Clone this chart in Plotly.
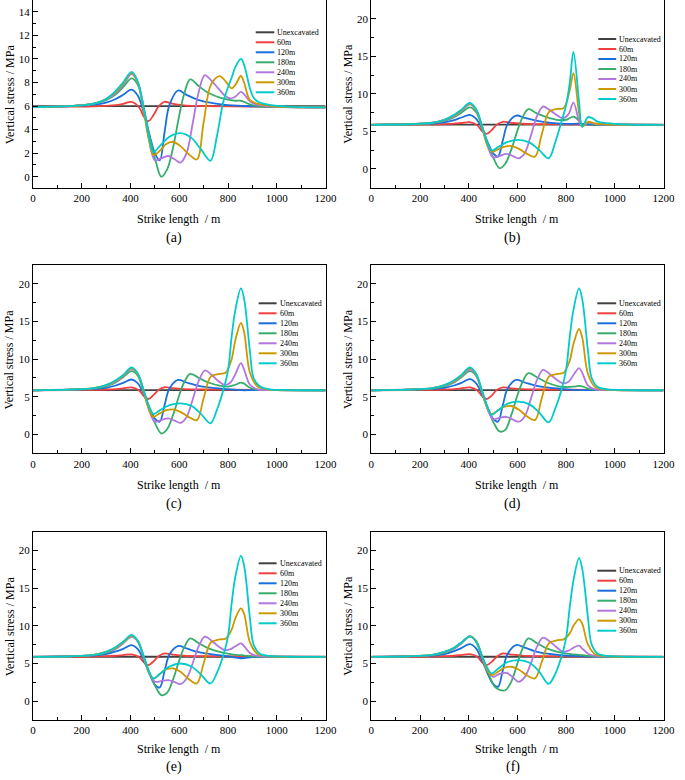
import plotly.graph_objects as go

# -------------------------
# Data
# -------------------------
SERIES = ["Unexcavated", "60m", "120m", "180m", "240m", "300m", "360m"]
COLORS = ["#404040", "#F14040", "#1A6FDF", "#37AD6B", "#B177DE", "#CC9900", "#00CBCC"]
PANELS = ["(a)", "(b)", "(c)", "(d)", "(e)", "(f)"]

X_UNEX = [0, 1200]
X_60 = [0, 150, 250, 300, 340, 370, 405, 435, 455, 474, 495, 515, 540, 570, 620, 700, 900, 1050, 1200]
X_120 = [0, 150, 250, 300, 340, 370, 405, 430, 455, 480, 500, 520, 540, 560, 595, 630, 680, 750, 800, 853, 900, 1000, 1200]
X_180 = [0, 150, 250, 300, 340, 370, 405, 430, 455, 480, 505, 527, 550, 575, 600, 620, 645, 680, 720, 770, 800, 830, 853, 866, 890, 920, 1000, 1200]
X_240 = [0, 150, 250, 300, 340, 370, 405, 430, 455, 478, 500, 525, 555, 580, 605, 630, 655, 680, 705, 730, 760, 786, 810, 830, 853, 866, 890, 920, 1000, 1200]
X_300 = [0, 150, 250, 300, 340, 370, 405, 430, 455, 475, 494, 520, 545, 574, 605, 640, 672, 700, 730, 765, 790, 815, 830, 853, 866, 890, 920, 960, 1000, 1200]
X_360 = [0, 150, 250, 300, 340, 370, 405, 430, 455, 475, 494, 520, 560, 605, 650, 690, 728, 755, 780, 800, 815, 830, 853, 866, 890, 905, 930, 970, 1050, 1200]

# (a)
A_UNEX = [6.0, 6.0]
A_60 = [5.92, 5.95, 5.98, 6.02, 6.08, 6.18, 6.35, 5.9, 5.1, 4.72, 5.25, 5.95, 6.36, 6.2, 6.05, 6.0, 5.96, 5.92, 5.88]
A_120 = [5.92, 6.0, 6.12, 6.3, 6.6, 6.95, 7.4, 6.9, 5.4, 3.4, 2.0, 1.4, 3.8, 6.1, 7.32, 6.95, 6.5, 6.2, 6.08, 6.02, 5.98, 5.93, 5.88]
A_180 = [5.92, 6.0, 6.2, 6.5, 7.0, 7.6, 8.34, 7.8, 5.8, 3.3, 1.2, 0.0, 0.6, 2.5, 5.2, 7.0, 8.26, 7.7, 7.1, 6.7, 6.55, 6.45, 6.45, 6.35, 6.15, 6.0, 5.93, 5.88]
A_240 = [5.92, 6.0, 6.2, 6.55, 7.1, 7.8, 8.71, 8.0, 5.7, 3.0, 1.4, 1.55, 1.76, 1.5, 1.2, 2.0, 4.5, 7.2, 8.63, 8.2, 7.5, 6.9, 6.65, 6.8, 7.2, 7.0, 6.4, 6.1, 5.93, 5.88]
A_300 = [5.92, 6.0, 6.2, 6.6, 7.2, 7.9, 8.82, 8.0, 5.5, 3.2, 1.85, 2.2, 2.75, 2.97, 2.6, 1.9, 1.47, 4.6, 7.8, 8.54, 8.1, 7.5, 7.8, 8.55, 8.0, 6.5, 6.2, 6.05, 5.95, 5.88]
A_360 = [5.92, 6.0, 6.2, 6.6, 7.3, 8.0, 8.9, 8.1, 5.8, 3.5, 2.1, 2.6, 3.4, 3.7, 3.3, 2.3, 1.36, 3.5, 6.3, 7.6, 8.4, 9.3, 10.0, 9.5, 7.5, 6.7, 6.3, 6.1, 5.95, 5.88]

# (b)
B_UNEX = [5.9, 5.9]
B_60 = [5.87, 5.9, 5.93, 5.97, 6.03, 6.12, 6.22, 5.8, 5.05, 4.66, 5.2, 5.9, 6.28, 6.15, 6.02, 5.97, 5.93, 5.9, 5.87]
B_120 = [5.87, 5.95, 6.05, 6.2, 6.5, 6.85, 7.2, 6.7, 5.3, 3.4, 2.1, 1.65, 3.8, 6.0, 7.1, 6.8, 6.4, 6.1, 6.0, 6.02, 5.92, 5.9, 5.87]
B_180 = [5.87, 5.95, 6.1, 6.4, 6.9, 7.5, 8.2, 7.6, 5.6, 3.2, 1.2, 0.1, 0.7, 2.6, 5.1, 6.8, 7.95, 7.4, 6.9, 6.5, 6.55, 6.97, 6.4, 5.8, 6.1, 5.95, 5.9, 5.87]
B_240 = [5.87, 5.95, 6.15, 6.5, 7.0, 7.7, 8.6, 7.9, 5.6, 3.0, 1.55, 1.7, 2.0, 1.75, 1.42, 2.1, 4.4, 7.0, 8.31, 7.9, 7.2, 6.75, 7.3, 8.84, 6.4, 5.65, 6.2, 6.0, 5.9, 5.87]
B_300 = [5.87, 5.95, 6.15, 6.55, 7.1, 7.8, 8.7, 7.9, 5.5, 3.3, 2.3, 2.6, 2.95, 3.07, 2.7, 2.0, 1.64, 4.6, 7.6, 8.0, 8.1, 10.5, 12.75, 7.5, 5.64, 6.3, 6.05, 5.95, 5.9, 5.87]
B_360 = [5.87, 5.95, 6.15, 6.55, 7.2, 7.9, 8.8, 8.0, 5.7, 3.6, 2.44, 2.9, 3.6, 3.86, 3.5, 2.5, 1.42, 3.5, 6.2, 8.5, 11.5, 15.6, 9.0, 5.64, 6.9, 6.8, 6.3, 6.1, 5.9, 5.87]

# (c)
C_UNEX = [5.9, 5.9]
C_60 = [5.87, 5.9, 5.93, 5.97, 6.03, 6.13, 6.25, 5.85, 5.1, 4.71, 5.25, 5.9, 6.27, 6.15, 6.02, 5.97, 5.93, 5.9, 5.87]
C_120 = [5.87, 5.95, 6.05, 6.2, 6.5, 6.85, 7.3, 6.8, 5.3, 3.4, 2.1, 1.7, 3.9, 6.1, 7.24, 6.9, 6.45, 6.15, 6.0, 5.88, 5.88, 5.88, 5.87]
C_180 = [5.87, 5.95, 6.1, 6.4, 6.9, 7.6, 8.4, 7.8, 5.7, 3.2, 1.2, 0.13, 0.7, 2.6, 5.2, 6.9, 8.04, 7.5, 6.9, 6.45, 6.35, 6.6, 6.89, 6.75, 6.2, 5.95, 5.9, 5.87]
C_240 = [5.87, 5.95, 6.15, 6.5, 7.0, 7.7, 8.7, 8.0, 5.7, 3.1, 1.7, 1.9, 2.13, 1.85, 1.55, 2.3, 4.6, 7.1, 8.49, 8.0, 7.1, 6.58, 6.9, 8.0, 9.47, 8.6, 6.6, 6.0, 5.9, 5.87]
C_300 = [5.87, 5.95, 6.15, 6.55, 7.1, 7.8, 8.8, 8.0, 5.5, 3.4, 2.35, 2.8, 3.2, 3.33, 3.0, 2.3, 1.91, 4.8, 7.7, 8.04, 8.2, 10.0, 12.5, 14.8, 13.6, 8.2, 6.4, 6.0, 5.9, 5.87]
C_360 = [5.87, 5.95, 6.15, 6.55, 7.2, 7.9, 8.9, 8.1, 5.8, 3.8, 2.71, 3.2, 3.9, 4.13, 3.8, 2.7, 1.47, 3.3, 5.8, 8.5, 13.0, 16.5, 19.4, 18.0, 11.0, 7.5, 6.4, 6.0, 5.9, 5.87]

# (d)
D_UNEX = [5.9, 5.9]
D_60 = [5.87, 5.9, 5.93, 5.97, 6.03, 6.13, 6.25, 5.85, 5.1, 4.7, 5.2, 5.9, 6.25, 6.15, 6.02, 5.97, 5.93, 5.9, 5.87]
D_120 = [5.87, 5.95, 6.05, 6.2, 6.5, 6.85, 7.35, 6.8, 5.3, 3.4, 2.1, 1.7, 3.9, 6.1, 7.24, 6.9, 6.45, 6.15, 6.0, 5.9, 5.88, 5.88, 5.87]
D_180 = [5.87, 5.95, 6.1, 6.4, 6.9, 7.6, 8.4, 7.8, 5.7, 3.3, 1.4, 0.4, 0.6, 2.6, 5.2, 6.9, 8.13, 7.6, 6.9, 6.4, 6.3, 6.35, 6.45, 6.4, 6.1, 5.95, 5.9, 5.87]
D_240 = [5.87, 5.95, 6.15, 6.5, 7.0, 7.7, 8.6, 7.9, 5.7, 3.3, 2.04, 2.2, 2.35, 2.0, 1.7, 2.4, 4.7, 7.2, 8.58, 8.1, 7.3, 6.8, 7.0, 7.9, 8.8, 8.2, 6.5, 6.0, 5.9, 5.87]
D_300 = [5.87, 5.95, 6.15, 6.55, 7.1, 7.8, 8.8, 8.0, 5.6, 3.6, 2.7, 3.2, 3.65, 3.78, 3.3, 2.4, 1.91, 4.8, 7.7, 8.04, 8.2, 9.8, 12.0, 14.0, 12.9, 8.0, 6.3, 6.0, 5.9, 5.87]
D_360 = [5.87, 5.95, 6.15, 6.55, 7.2, 7.9, 8.9, 8.1, 5.8, 3.8, 2.6, 3.2, 4.1, 4.36, 4.0, 2.9, 1.6, 3.4, 5.8, 8.6, 13.0, 16.5, 19.4, 18.0, 11.0, 7.5, 6.3, 6.0, 5.9, 5.87]

# (e)
E_UNEX = [5.9, 5.9]
E_60 = [5.87, 5.9, 5.93, 5.97, 6.03, 6.12, 6.21, 5.85, 5.15, 4.79, 5.3, 5.95, 6.34, 6.2, 6.03, 5.97, 5.93, 5.9, 5.87]
E_120 = [5.87, 5.95, 6.05, 6.25, 6.6, 6.95, 7.45, 6.9, 5.4, 3.5, 2.2, 1.8, 4.0, 6.2, 7.32, 7.0, 6.5, 6.15, 5.95, 5.7, 5.85, 5.88, 5.87]
E_180 = [5.87, 5.95, 6.1, 6.4, 6.95, 7.7, 8.56, 8.0, 5.9, 3.6, 1.8, 0.8, 1.1, 2.9, 5.4, 7.1, 8.34, 7.7, 7.0, 6.5, 6.3, 6.15, 6.1, 6.05, 5.95, 5.9, 5.88, 5.87]
E_240 = [5.87, 5.95, 6.15, 6.5, 7.0, 7.7, 8.6, 7.9, 5.8, 3.6, 2.6, 2.65, 2.8, 2.55, 2.26, 3.0, 5.0, 7.3, 8.56, 8.1, 7.3, 6.79, 6.9, 7.3, 7.67, 7.3, 6.4, 6.0, 5.9, 5.87]
E_300 = [5.87, 5.95, 6.15, 6.55, 7.1, 7.8, 8.7, 8.0, 5.7, 3.9, 3.02, 3.6, 4.2, 4.35, 3.9, 2.9, 2.35, 5.0, 7.8, 8.2, 8.3, 9.5, 11.0, 12.33, 11.6, 7.8, 6.3, 6.0, 5.9, 5.87]
E_360 = [5.87, 5.95, 6.15, 6.55, 7.2, 7.9, 8.8, 8.0, 5.9, 4.0, 3.0, 3.6, 4.6, 5.0, 4.6, 3.5, 2.35, 3.8, 6.0, 8.6, 13.0, 16.5, 19.3, 18.0, 11.0, 7.5, 6.3, 6.0, 5.9, 5.87]

# (f)
F_UNEX = [5.9, 5.9]
F_60 = [5.87, 5.9, 5.93, 5.97, 6.03, 6.14, 6.25, 5.9, 5.15, 4.79, 5.25, 5.9, 6.34, 6.22, 6.04, 5.97, 5.93, 5.9, 5.87]
F_120 = [5.87, 5.95, 6.05, 6.25, 6.65, 7.05, 7.58, 7.0, 5.4, 3.5, 2.3, 1.9, 4.1, 6.3, 7.45, 7.1, 6.55, 6.2, 6.05, 6.0, 5.92, 5.88, 5.87]
F_180 = [5.87, 5.95, 6.1, 6.4, 6.95, 7.7, 8.6, 8.0, 6.0, 3.8, 2.0, 1.5, 1.45, 2.6, 5.0, 6.9, 8.34, 7.7, 7.0, 6.5, 6.3, 6.2, 6.15, 6.1, 6.0, 5.92, 5.88, 5.87]
F_240 = [5.87, 5.95, 6.15, 6.5, 7.0, 7.7, 8.6, 7.9, 5.9, 4.0, 3.24, 3.6, 3.75, 3.2, 2.57, 3.2, 5.0, 7.2, 8.43, 8.0, 7.2, 6.56, 6.7, 7.1, 7.36, 7.0, 6.3, 6.0, 5.9, 5.87]
F_300 = [5.87, 5.95, 6.15, 6.55, 7.1, 7.8, 8.6, 8.0, 5.8, 4.2, 3.46, 3.9, 4.4, 4.57, 4.2, 3.4, 3.02, 5.2, 7.7, 8.1, 8.2, 9.0, 10.0, 10.87, 10.3, 7.5, 6.2, 6.0, 5.9, 5.87]
F_360 = [5.87, 5.95, 6.15, 6.55, 7.1, 7.8, 8.6, 7.9, 6.0, 4.5, 3.68, 4.3, 5.2, 5.46, 5.1, 3.9, 2.3, 3.6, 5.8, 8.4, 12.5, 16.0, 19.0, 17.6, 11.0, 7.5, 6.3, 6.0, 5.9, 5.87]

X_TICKS = [0, 200, 400, 600, 800, 1000, 1200]

# -------------------------
# Layout helpers
# -------------------------
W, H = 685, 780
FONT = "Liberation Serif"

xs = [X_UNEX, X_60, X_120, X_180, X_240, X_300, X_360]
panel_data = [
    [A_UNEX, A_60, A_120, A_180, A_240, A_300, A_360],
    [B_UNEX, B_60, B_120, B_180, B_240, B_300, B_360],
    [C_UNEX, C_60, C_120, C_180, C_240, C_300, C_360],
    [D_UNEX, D_60, D_120, D_180, D_240, D_300, D_360],
    [E_UNEX, E_60, E_120, E_180, E_240, E_300, E_360],
    [F_UNEX, F_60, F_120, F_180, F_240, F_300, F_360],
]


def px(x):
    return x / W


def py(y):
    return 1 - y / H


col_dom = [[px(30.5), px(329.3)], [px(376), px(674.3)]]
row_px = [(0, 187.7), (265, 453.3), (531.7, 720)]
title_off = [31, 31.5, 28.5]
caption_off = [50, 51, 46.5]
# legend: line x0, line x1, text x, first row y (pixels)
legend_pos = [(258, 277, 279, 32.3), (607.7, 626, 627.5, 39),
              (261, 279.3, 281.5, 303.3), (606.7, 626, 627.5, 303.3),
              (261, 279.3, 281.5, 563.3), (606.7, 626, 627.5, 570.7)]

fig = go.Figure()
annotations = []
shapes = []

for p in range(6):
    row, col = p // 2, p % 2
    k = p + 1
    xa = "x" if k == 1 else f"x{k}"
    ya = "y" if k == 1 else f"y{k}"

    for s in range(7):
        fig.add_trace(go.Scatter(
            x=xs[s], y=panel_data[p][s], mode="lines", name=SERIES[s],
            line=dict(color=COLORS[s], width=1.8, shape="spline", smoothing=1.0),
            xaxis=xa, yaxis=ya, showlegend=False, hoverinfo="skip"))

    top, bot = row_px[row]
    if p == 0:
        yrange, dtick, minor = [-0.93, 15], 2, 1
    else:
        yrange, dtick, minor = [-2.5, 22.5], 5, 2.5

    axis_common = dict(
        showline=True, linecolor="black", linewidth=1, showgrid=False,
        zeroline=False, ticks="inside", ticklen=5, tickwidth=1,
        tickcolor="black", tickfont=dict(family=FONT, size=11, color="black"),
    )
    fig.update_layout({
        f"xaxis{'' if k == 1 else k}": dict(
            axis_common, domain=col_dom[col], anchor=ya, range=[0, 1200],
            tickvals=X_TICKS, mirror=(row > 0), ticklabeloverflow="allow",
            minor=dict(ticks="inside", ticklen=3, dtick=100, tick0=0, tickcolor="black"),
        ),
        f"yaxis{'' if k == 1 else k}": dict(
            axis_common, domain=[py(bot), py(top)], anchor=xa, range=yrange,
            tick0=0, dtick=dtick, mirror=True,
            minor=dict(ticks="inside", ticklen=3, dtick=minor, tick0=0, tickcolor="black"),
        ),
    })

    xl = col_dom[col][0] * W
    xr = col_dom[col][1] * W
    cx = (xl + xr) / 2
    cy = (top + bot) / 2

    # axis titles and panel caption
    annotations.append(dict(
        text="Strike length\u00a0 / m", x=px(cx), y=py(bot + title_off[row]),
        xref="paper", yref="paper", showarrow=False, xanchor="center", yanchor="middle",
        font=dict(family=FONT, size=12, color="black")))
    annotations.append(dict(
        text="Vertical stress / MPa", x=px(xl - 24), y=py(cy), xref="paper", yref="paper",
        showarrow=False, xanchor="center", yanchor="middle", textangle=-90,
        font=dict(family=FONT, size=12, color="black")))
    annotations.append(dict(
        text=PANELS[p], x=px(cx - 5), y=py(bot + caption_off[row]), xref="paper", yref="paper",
        showarrow=False, xanchor="center", yanchor="middle",
        font=dict(family=FONT, size=14, color="black")))

    # legend
    lx0, lx1, tx, ly0 = legend_pos[p]
    for s in range(7):
        ly = ly0 + 10 * s
        shapes.append(dict(type="line", xref="paper", yref="paper",
                           x0=px(lx0), x1=px(lx1), y0=py(ly), y1=py(ly),
                           line=dict(color=COLORS[s], width=2)))
        annotations.append(dict(
            text=SERIES[s], x=px(tx), y=py(ly), xref="paper", yref="paper",
            showarrow=False, xanchor="left", yanchor="middle", borderpad=0,
            font=dict(family=FONT, size=8, color="black")))

fig.update_layout(
    width=W, height=H,
    margin=dict(l=0, r=0, t=0, b=0),
    paper_bgcolor="white", plot_bgcolor="white",
    annotations=annotations, shapes=shapes,
    showlegend=False,
)

# drop the default page margin so the figure sits at the window's top-left corner
fig.write_html("out.html", config={"displayModeBar": False},
               post_script="document.body.style.margin='0';")
